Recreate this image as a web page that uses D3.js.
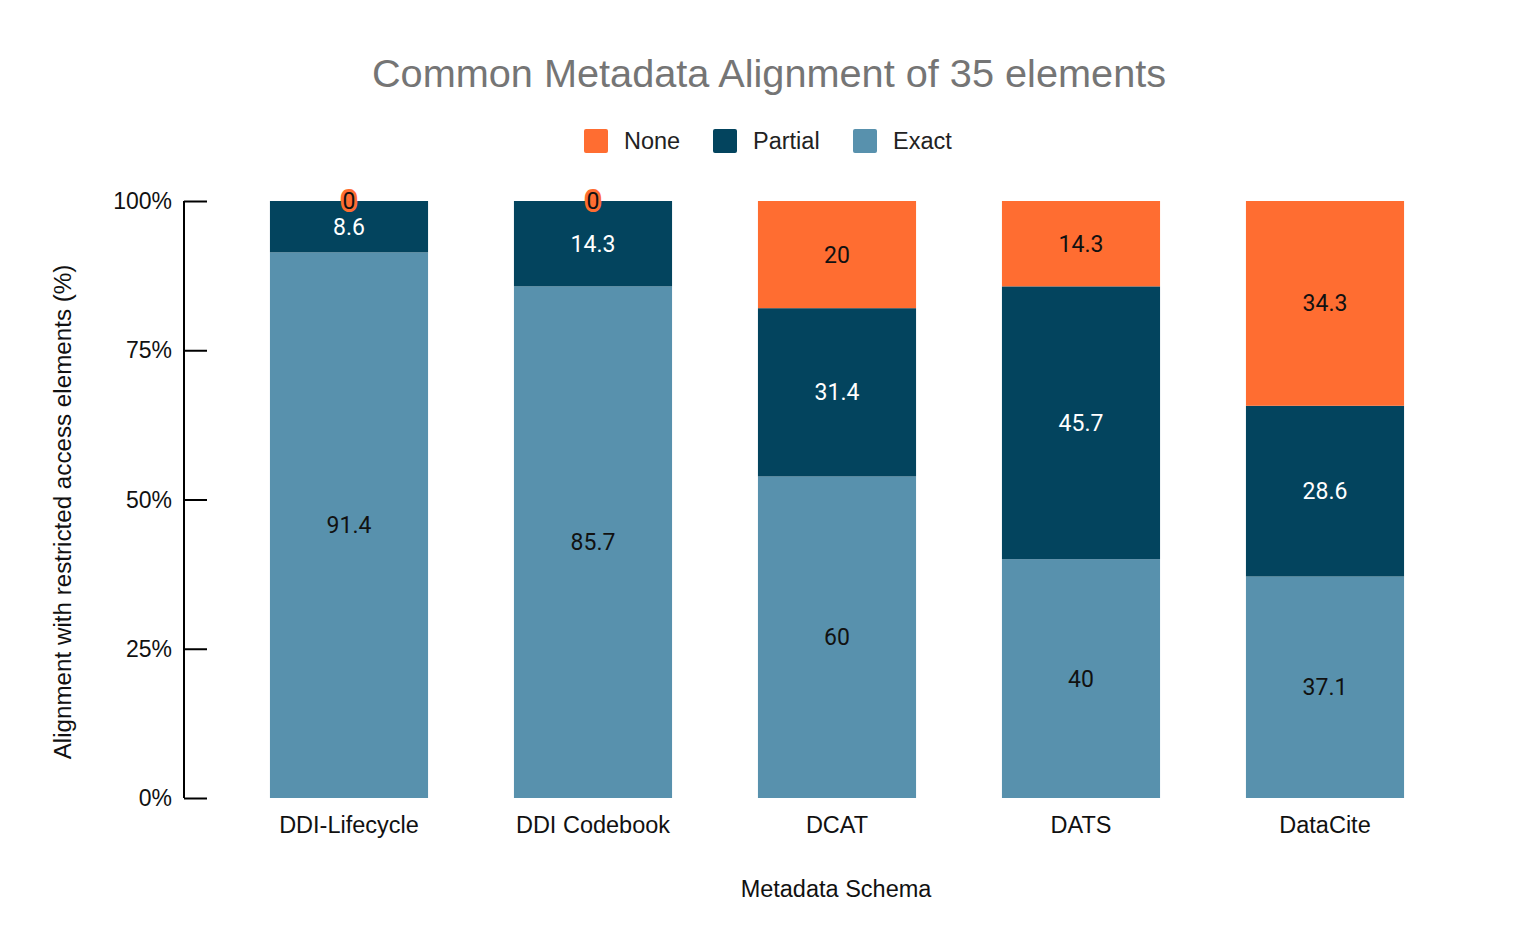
<!DOCTYPE html>
<html>
<head>
<meta charset="utf-8">
<script src="https://cdn.jsdelivr.net/npm/d3@7"></script>
<style>
  body { margin: 0; background: #fff; }
  text { font-family: "Liberation Sans", Arial, sans-serif; }
  .val { font-family: Roboto, "Noto Sans", sans-serif; }
</style>
</head>
<body>
<div id="chart"></div>
<script>
'use strict';

// chart data
const schemas = ["DDI-Lifecycle", "DDI Codebook", "DCAT", "DATS", "DataCite"];
const exact = [91.4, 85.7, 60, 40, 37.1];
const partial = [8.6, 14.3, 31.4, 45.7, 28.6];
const none = [0, 0, 20, 14.3, 34.3];
const seriesNames = ["Exact", "Partial", "None"];
const legendOrder = ["None", "Partial", "Exact"];
const yTicks = [0, 0.25, 0.5, 0.75, 1];

const colors = { Exact: "#5891ad", Partial: "#03445e", None: "#ff6d31" };
const labelColors = { Exact: "#111", Partial: "#fff", None: "#111" };

const width = 1536, height = 950;
const svg = d3.select("#chart").append("svg")
    .attr("width", width)
    .attr("height", height);

const x = d3.scaleBand()
    .domain(schemas)
    .range([227, 1447])
    .paddingInner(0.352)
    .paddingOuter(0.176);

const y = d3.scaleLinear()
    .domain([0, 1])
    .range([798, 201]);

// stack the three series, each bar expanded to 100%
const rows = schemas.map((s, i) => ({ schema: s, Exact: exact[i], Partial: partial[i], None: none[i] }));
const stacked = d3.stack().keys(seriesNames).offset(d3.stackOffsetExpand)(rows);

// title
svg.append("text")
    .attr("x", 769)
    .attr("y", 87)
    .attr("text-anchor", "middle")
    .attr("font-size", 39.7)
    .attr("fill", "#757575")
    .text("Common Metadata Alignment of 35 elements");

// legend
const legendX = [584, 713, 853];
const legend = svg.append("g");
legendOrder.forEach((name, i) => {
    legend.append("rect")
        .attr("x", legendX[i]).attr("y", 129)
        .attr("width", 24).attr("height", 24)
        .attr("rx", 2)
        .attr("fill", colors[name]);
    legend.append("text")
        .attr("x", legendX[i] + 40).attr("y", 149)
        .attr("font-size", 23.5)
        .attr("fill", "#222")
        .text(name);
});

// bars
const layers = svg.append("g").selectAll("g")
    .data(stacked)
    .join("g")
    .attr("fill", d => colors[d.key]);

layers.selectAll("rect")
    .data(d => d)
    .join("rect")
    .attr("x", d => x(d.data.schema))
    .attr("y", d => y(d[1]))
    .attr("width", x.bandwidth())
    .attr("height", d => y(d[0]) - y(d[1]));

// y axis
const yAxis = svg.append("g")
    .attr("transform", "translate(184,0)")
    .call(d3.axisRight(y).tickValues(yTicks).tickSize(23).tickFormat(""));
yAxis.select(".domain").attr("stroke", "#000").attr("stroke-width", 2).attr("d", "M0,201V798");
yAxis.selectAll(".tick line").attr("stroke", "#000").attr("stroke-width", 2);

svg.append("g").selectAll("text")
    .data(yTicks)
    .join("text")
    .attr("x", 172)
    .attr("y", d => y(d) + 8)
    .attr("text-anchor", "end")
    .attr("font-size", 23)
    .attr("fill", "#111")
    .text(d => d3.format(".0%")(d));

// value labels (raw values, centred in each segment)
stacked.forEach(layer => {
    svg.append("g").selectAll("text")
        .data(layer)
        .join("text")
        .attr("class", "val")
        .attr("x", d => x(d.data.schema) + x.bandwidth() / 2)
        .attr("y", d => (y(d[0]) + y(d[1])) / 2 + 8)
        .attr("text-anchor", "middle")
        .attr("font-size", 23)
        .attr("fill", labelColors[layer.key])
        .attr("stroke", d => (d.data[layer.key] === 0 ? colors.None : null))
        .attr("stroke-width", 6)
        .attr("stroke-linejoin", "round")
        .attr("paint-order", "stroke")
        .text(d => d.data[layer.key]);
});

// x labels
svg.append("g").selectAll("text")
    .data(schemas)
    .join("text")
    .attr("x", d => x(d) + x.bandwidth() / 2)
    .attr("y", 833)
    .attr("text-anchor", "middle")
    .attr("font-size", 23.5)
    .attr("fill", "#111")
    .text(d => d);

// axis titles
svg.append("text")
    .attr("x", 836)
    .attr("y", 897)
    .attr("text-anchor", "middle")
    .attr("font-size", 23.5)
    .attr("fill", "#111")
    .text("Metadata Schema");

svg.append("text")
    .attr("transform", "translate(71,512) rotate(-90)")
    .attr("text-anchor", "middle")
    .attr("font-size", 24.2)
    .attr("fill", "#111")
    .text("Alignment with restricted access elements (%)");
</script>
</body>
</html>
